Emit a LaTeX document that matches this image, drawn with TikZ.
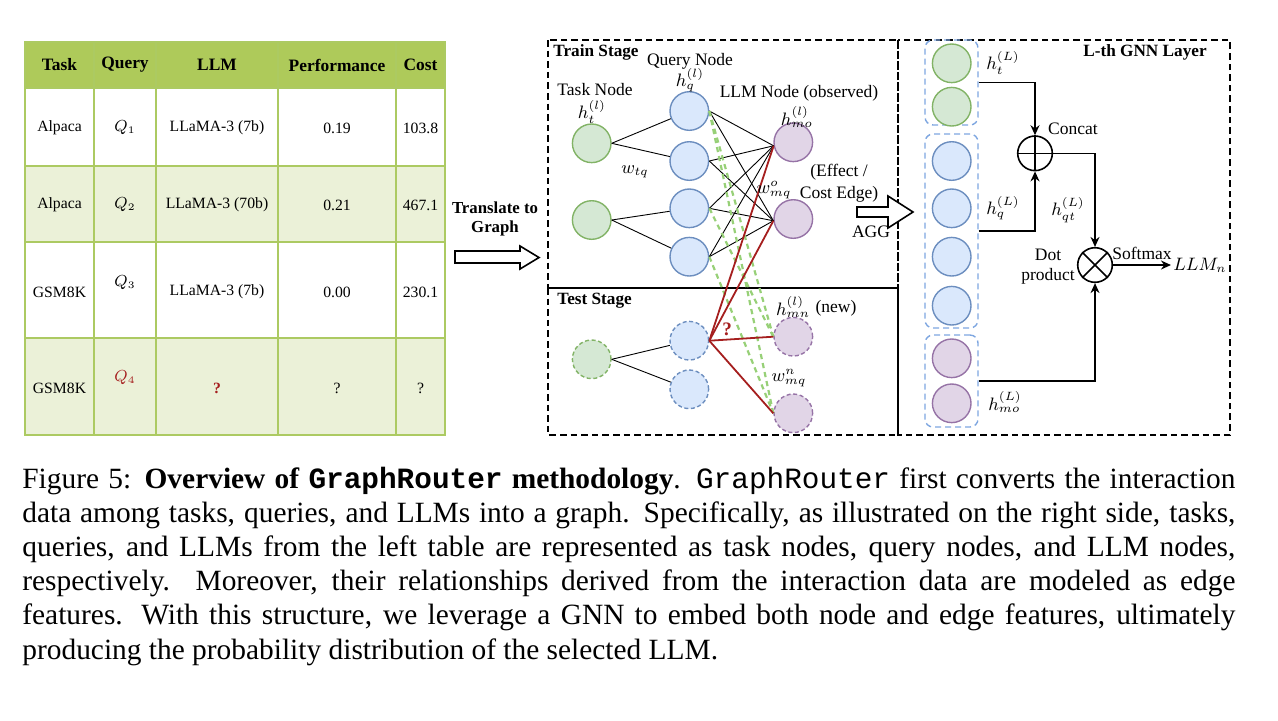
\documentclass[tikz,border=0pt]{standalone}
\usepackage{fontspec}
\setmainfont{Liberation Serif}
\setmonofont{Liberation Mono}
\usetikzlibrary{arrows.meta,calc}
\definecolor{hdr}{RGB}{174,202,90}
\definecolor{rowl}{RGB}{235,241,216}
\definecolor{gridg}{RGB}{172,202,98}
\definecolor{tgf}{RGB}{213,232,212}
\definecolor{tgd}{RGB}{130,179,102}
\definecolor{qbf}{RGB}{218,232,252}
\definecolor{qbd}{RGB}{108,142,191}
\definecolor{lpf}{RGB}{225,213,231}
\definecolor{lpd}{RGB}{150,115,166}
\definecolor{dred}{RGB}{165,30,30}
\definecolor{lgreen}{RGB}{151,208,119}
\definecolor{bdash}{RGB}{126,166,224}
\begin{document}
\begin{tikzpicture}[x=0.5pt,y=-0.5pt,
  lbl/.style={font=\fontsize{8.75}{10.5}\selectfont, inner sep=0pt},
  blbl/.style={font=\fontsize{8.6}{10}\selectfont\bfseries, inner sep=0pt},
  tbh/.style={font=\fontsize{8.7}{10}\selectfont\bfseries, inner sep=0pt},
  tbb/.style={font=\fontsize{7.85}{9}\selectfont, inner sep=0pt},
  gnode/.style={circle, minimum size=19.3pt, inner sep=0pt, line width=0.7pt},
  tasknode/.style={gnode, draw=tgd, fill=tgf},
  querynode/.style={gnode, draw=qbd, fill=qbf},
  llmnode/.style={gnode, draw=lpd, fill=lpf},
  newnode/.style={dash pattern=on 2pt off 1.3pt},
  stagebox/.style={draw=black, line width=0.9pt, dash pattern=on 3.3pt off 2pt},
  thinedge/.style={line width=0.45pt, black},
  rededge/.style={line width=0.9pt, dred},
  gedge/.style={line width=1.1pt, lgreen, dash pattern=on 2.6pt off 2pt},
  grpbox/.style={draw=bdash, line width=0.7pt, dash pattern=on 3pt off 2pt, rounded corners=4pt, minimum width=26.5pt, inner sep=0pt},
  flow/.style={line width=0.75pt, -{Stealth[length=5pt,width=4.5pt]}},
  opnode/.style={circle, draw, line width=0.8pt, minimum size=17.3pt, inner sep=0pt, fill=white},
  blockarrow/.style={draw, line width=0.8pt, fill=white, line join=miter},
  capline/.style={font=\fontsize{14.7}{17}\selectfont, inner sep=0pt, anchor=base west}
]
\useasboundingbox (0,0) rectangle (1278,720);

% ---------------- table ----------------
\fill[hdr] (25,42) rectangle (445,88);
\fill[rowl] (25,166) rectangle (445,242);
\fill[rowl] (25,338) rectangle (445,435);
\draw[gridg, line width=0.8pt] (25,42) rectangle (445,435);
\foreach \yy in {88,166,242,338} \draw[gridg, line width=0.8pt] (25,\yy) -- (445,\yy);
\foreach \xx in {94,156,278,396} \draw[gridg, line width=0.8pt] (\xx,42) -- (\xx,435);

\node[tbh] (hT) at (59.5,65) {Task};
\node[tbh] (hQ) at (125,65) {Query};
\node[tbh] (hL) at (217,65) {LLM};
\node[tbh] (hP) at (337,65) {Performance};
\node[tbh] (hC) at (420.5,65) {Cost};

\node[tbb] (a1) at (59.5,128) {Alpaca};
\node[tbb] (b1) at (125,128) {$Q_1$};
\node[tbb] (c1) at (217,128) {LLaMA-3 (7b)};
\node[tbb] (d1) at (337,128) {0.19};
\node[tbb] (e1) at (420.5,128) {103.8};

\node[tbb] (a2) at (59.5,205) {Alpaca};
\node[tbb] (b2) at (125,205) {$Q_2$};
\node[tbb] (c2) at (217,205) {LLaMA-3 (70b)};
\node[tbb] (d2) at (337,205) {0.21};
\node[tbb] (e2) at (420.5,205) {467.1};

\node[tbb] (a3) at (59.5,292) {GSM8K};
\node[tbb] (b3) at (125,283) {$Q_3$};
\node[tbb] (c3) at (217,292) {LLaMA-3 (7b)};
\node[tbb] (d3) at (337,292) {0.00};
\node[tbb] (e3) at (420.5,292) {230.1};

\node[tbb] (a4) at (59.5,388) {GSM8K};
\node[tbb] (b4) at (125,378) {\textcolor{dred}{$Q_4$}};
\node[tbb] (c4) at (217,388) {\textcolor{dred}{\bfseries ?}};
\node[tbb] (d4) at (337,388) {?};
\node[tbb] (e4) at (420.5,388) {?};

% ---------------- translate arrow ----------------
\node[blbl, font=\fontsize{8.4}{10}\selectfont\bfseries] (tr1) at (495,208) {Translate to};
\node[blbl, font=\fontsize{8.4}{10}\selectfont\bfseries] (tr2) at (495,228) {Graph};
\draw[blockarrow] (455,251) -- (520,251) -- (520,246) -- (539,257.5) -- (520,269) -- (520,263) -- (455,263) -- cycle;

% ---------------- stage boxes ----------------
\draw[stagebox] (548,40) rectangle (898,288);
\draw[stagebox] (548,288) rectangle (898,435);
\draw[stagebox] (898,40) rectangle (1230,435);

% ---------------- train nodes ----------------
\node[tasknode] (t1) at (591.7,143.3) {};
\node[tasknode] (t2) at (591.7,220) {};
\node[querynode] (q1) at (689.3,111) {};
\node[querynode] (q2) at (689.3,161) {};
\node[querynode] (q3) at (689.3,208.3) {};
\node[querynode] (q4) at (689.3,256.7) {};
\node[llmnode] (l1) at (793.3,142.3) {};
\node[llmnode] (l2) at (793.3,219) {};

% ---------------- test nodes ----------------
\node[tasknode, newnode] (tt1) at (591.7,359.3) {};
\node[querynode, newnode] (tq1) at (689.3,340.7) {};
\node[querynode, newnode] (tq2) at (689.3,389.3) {};
\node[llmnode, newnode] (tl1) at (793.3,336.7) {};
\node[llmnode, newnode] (tl2) at (793.3,413.3) {};

% edges
\draw[thinedge] (t1.east) -- (q1);
\draw[thinedge] (t1.east) -- (q2);
\draw[thinedge] (t2.east) -- (q3);
\draw[thinedge] (t2.east) -- (q4);
\foreach \q in {q1,q2,q3,q4} {
  \draw[thinedge] (\q.east) -- (l1.190);
  \draw[thinedge] (\q.east) -- (l2.185);
}
\draw[thinedge] (tt1.east) -- (tq1);
\draw[thinedge] (tt1.east) -- (tq2);

\draw[gedge] (q1.east) -- (tl1.west);
\draw[gedge] (q1.east) -- (tl2.west);
\draw[gedge] (q3.east) -- (tl1.west);
\draw[gedge] (q4.east) -- (tl2.west);

\draw[rededge] (tq1.east) -- (l1.190);
\draw[rededge] (tq1.east) -- (l2.185);
\draw[rededge] (tq1.east) -- (tl1.west);
\draw[rededge] (tq1.east) -- (tl2.west);

% labels (train)
\node[blbl, anchor=west] (trs) at (553,52) {Train Stage};
\node[lbl] (qn) at (690,61) {Query Node};
\node[lbl] (hq) at (690,80) {$h_q^{(l)}$};
\node[lbl] (tn) at (595,90) {Task Node};
\node[lbl] (ht) at (592,112) {$h_t^{(l)}$};
\node[lbl] (ln) at (799,93) {LLM Node (observed)};
\node[lbl] (hmo) at (797,117) {$h_{mo}^{(l)}$};
\node[lbl] (wtq) at (635,172) {$w_{tq}$};
\node[lbl, align=center, font=\fontsize{8.75}{11}\selectfont] (eff) at (839,183) {(Effect /\\Cost Edge)};
\node[lbl] (wmqo) at (774,190) {$w_{mq}^{o}$};
\node[lbl] (agg) at (871,232) {AGG};

% labels (test)
\node[blbl, anchor=west] (tss) at (557,301) {Test Stage};
\node[lbl] (hmn) at (793,307) {$h_{mn}^{(l)}$};
\node[lbl] (new) at (836,308) {(new)};
\node[lbl] (wmqn) at (789,378) {$w_{mq}^{n}$};
\node[lbl, text=dred, font=\fontsize{9.5}{11}\selectfont\bfseries] (qm) at (727,329) {?};

% ---------------- GNN layer ----------------
\node[blbl] (gnnt) at (1145,52) {L-th GNN Layer};
\node[grpbox, minimum height=42.5pt] (g1) at (951.5,82.5) {};
\node[grpbox, minimum height=97pt] (g2) at (951.5,231) {};
\node[grpbox, minimum height=46pt] (g3) at (951.5,381) {};
\node[tasknode] (n1) at (951.7,63.3) {};
\node[tasknode] (n2) at (951.7,106.7) {};
\node[querynode] (n3) at (951.7,161) {};
\node[querynode] (n4) at (951.7,208.3) {};
\node[querynode] (n5) at (951.7,256.7) {};
\node[querynode] (n6) at (951.7,305.7) {};
\node[llmnode] (n7) at (951.7,358.3) {};
\node[llmnode] (n8) at (951.7,403.3) {};

\node[opnode] (cat) at (1035,153.3) {};
\draw[line width=0.8pt] (cat.north) -- (cat.south) (cat.west) -- (cat.east);
\node[opnode] (dot) at (1095,265) {};
\draw[line width=0.8pt] (dot.north west) -- (dot.south east) (dot.north east) -- (dot.south west);

\draw[flow] (g1.east) -| (cat.north);
\draw[flow] (g2.east) -| (cat.south);
\draw[flow] (cat.east) -| (dot.north);
\draw[flow] (g3.east) -| (dot.south);
\node[lbl, inner sep=1pt] (llmn) at (1200,265) {$LLM_n$};
\draw[flow] (dot.east) -- (llmn.west);

\node[lbl] (htL) at (1003,63) {$h_t^{(L)}$};
\node[lbl] (hqL) at (1003,208) {$h_q^{(L)}$};
\node[lbl] (hqtL) at (1068,210) {$h_{qt}^{(L)}$};
\node[lbl] (hmoL) at (1005,402) {$h_{mo}^{(L)}$};
\node[lbl] (cc) at (1073,129) {Concat};
\node[lbl, align=center, font=\fontsize{8.75}{10}\selectfont] (dp) at (1048,267) {Dot\\product};
\node[lbl] (sm) at (1142,253) {Softmax};

% AGG block arrow
\draw[blockarrow] (857,207) -- (888,207) -- (888,196) -- (913,212) -- (888,228) -- (888,217) -- (857,217) -- cycle;

% ---------------- caption ----------------
\node[capline] (cap1) at (22,488) {\makebox[606.5pt][s]{Figure 5: \textbf{Overview of \texttt{GraphRouter} methodology}. \texttt{GraphRouter} first converts the interaction}};
\node[capline] (cap2) at (22,522.2) {\makebox[606.5pt][s]{data among tasks, queries, and LLMs into a graph. Specifically, as illustrated on the right side, tasks,}};
\node[capline] (cap3) at (22,556.4) {\makebox[606.5pt][s]{queries, and LLMs from the left table are represented as task nodes, query nodes, and LLM nodes,}};
\node[capline] (cap4) at (22,590.6) {\makebox[606.5pt][s]{respectively. Moreover, their relationships derived from the interaction data are modeled as edge}};
\node[capline] (cap5) at (22,624.8) {\makebox[606.5pt][s]{features. With this structure, we leverage a GNN to embed both node and edge features, ultimately}};
\node[capline] (cap6) at (22,659) {producing the probability distribution of the selected LLM.};
\end{tikzpicture}
\end{document}
